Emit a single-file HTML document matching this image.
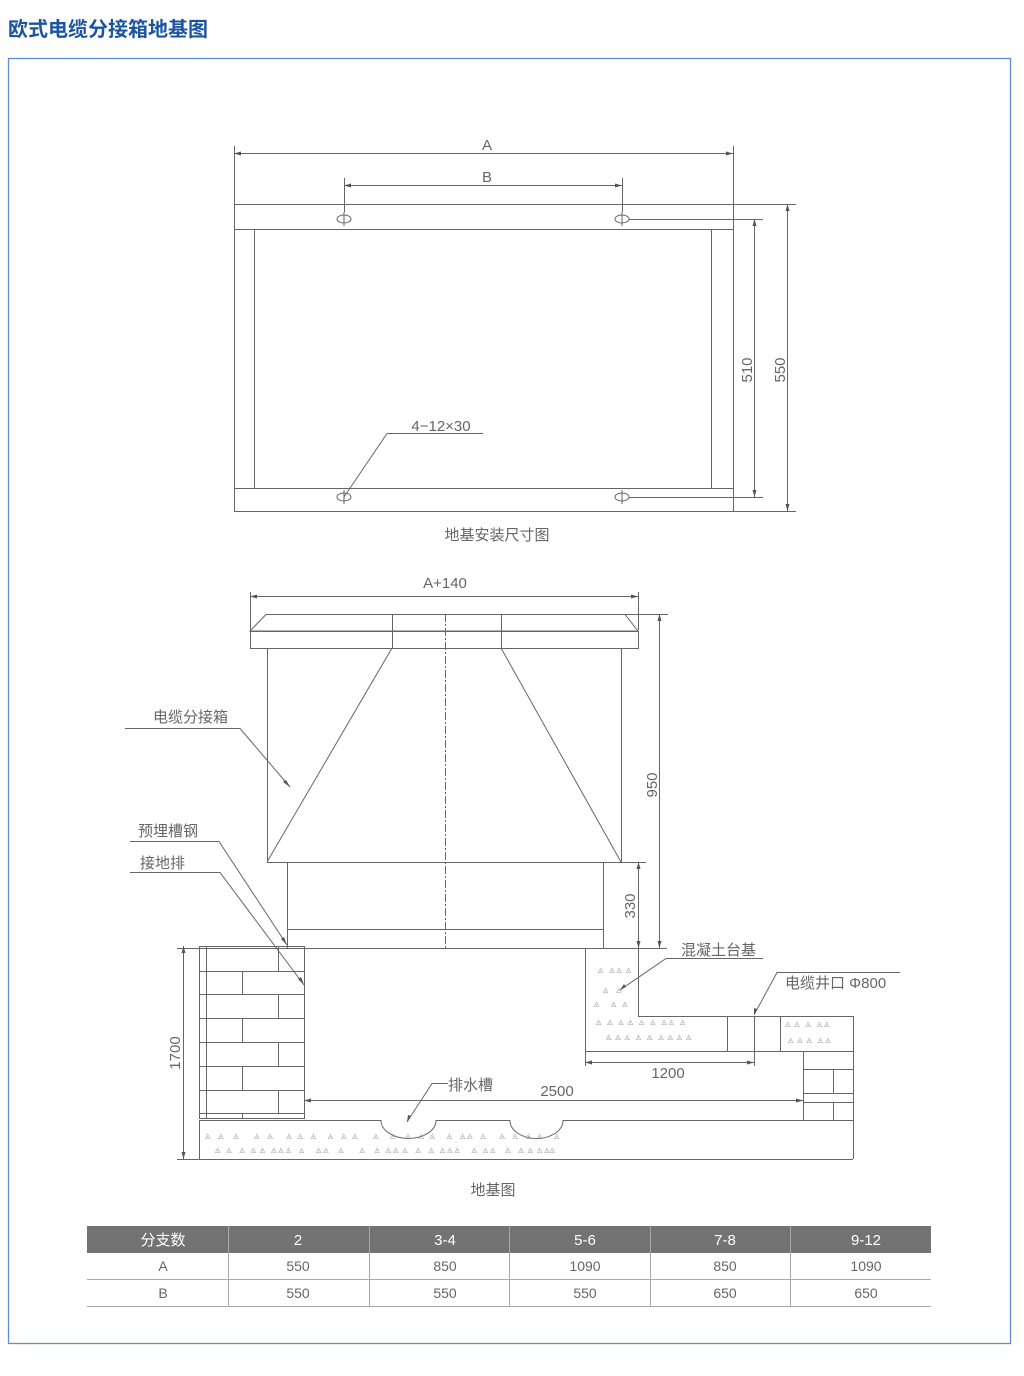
<!DOCTYPE html>
<html><head><meta charset="utf-8"><style>
html,body{margin:0;padding:0;background:#fff;width:1024px;height:1376px;overflow:hidden}
svg{display:block}
text{font-family:"Liberation Sans","Noto Sans CJK SC",sans-serif;fill:#666}
.sc text{white-space:pre}
</style></head><body>
<svg width="1024" height="1376" viewBox="0 0 1024 1376" xmlns="http://www.w3.org/2000/svg">
<text x="8" y="36" style="font-size:20px;font-weight:bold;fill:#1b54a3;font-family:'Noto Sans CJK SC',sans-serif">欧式电缆分接箱地基图</text>
<rect x="8.5" y="58.5" width="1002" height="1285" fill="none" stroke="#5b8fd3" stroke-width="1.3"/>

<g stroke="#666" stroke-width="1" fill="none">
<rect x="234.5" y="204.5" width="499" height="307"/>
<line x1="234" y1="229.5" x2="733" y2="229.5"/>
<line x1="234" y1="488.5" x2="733" y2="488.5"/>
<line x1="254.5" y1="229" x2="254.5" y2="488"/>
<line x1="711.5" y1="229" x2="711.5" y2="488"/>
<ellipse cx="344" cy="219" rx="7" ry="4"/><ellipse cx="622" cy="219" rx="7" ry="4"/>
<ellipse cx="344" cy="497" rx="7" ry="4"/><ellipse cx="622" cy="497" rx="7" ry="4"/>
<line x1="344" y1="212" x2="344" y2="226"/><line x1="622" y1="212" x2="622" y2="226"/>
<line x1="344" y1="490" x2="344" y2="504"/><line x1="622" y1="490" x2="622" y2="504"/>
<line x1="234.5" y1="146" x2="234.5" y2="204"/><line x1="733.5" y1="146" x2="733.5" y2="204"/>
<line x1="234" y1="153.5" x2="733" y2="153.5"/>
<line x1="344.5" y1="178" x2="344.5" y2="212"/><line x1="622.5" y1="178" x2="622.5" y2="212"/>
<line x1="344" y1="185.5" x2="622" y2="185.5"/>
<line x1="629" y1="219.5" x2="763" y2="219.5"/><line x1="629" y1="497.5" x2="763" y2="497.5"/>
<line x1="754.5" y1="219" x2="754.5" y2="497"/>
<line x1="733" y1="204.5" x2="796" y2="204.5"/><line x1="733" y1="511.5" x2="796" y2="511.5"/>
<line x1="787.5" y1="204" x2="787.5" y2="511"/>
<polyline points="483,433.5 387,433.5 344,497"/>

<polygon points="266,614.5 625,614.5 638,631 250,631"/>
<rect x="250.5" y="631.5" width="388" height="17"/>
<line x1="392.5" y1="614" x2="392.5" y2="648"/><line x1="501.5" y1="614" x2="501.5" y2="648"/>
<rect x="267.5" y="648.5" width="354" height="214"/>
<line x1="392" y1="648" x2="267" y2="862"/><line x1="501" y1="648" x2="621" y2="862"/>
<rect x="287.5" y="862.5" width="316" height="86"/>
<line x1="287" y1="929.5" x2="603" y2="929.5"/>
<line x1="445.5" y1="614" x2="445.5" y2="948" stroke-dasharray="8 2 2 2"/>
<line x1="250.5" y1="592" x2="250.5" y2="630"/><line x1="638.5" y1="592" x2="638.5" y2="630"/>
<line x1="250" y1="596.5" x2="638" y2="596.5"/>
<line x1="625" y1="614.5" x2="668" y2="614.5"/>
<line x1="659.5" y1="614" x2="659.5" y2="948"/>
<line x1="621" y1="862.5" x2="646" y2="862.5"/>
<line x1="638.5" y1="862" x2="638.5" y2="948"/>
<line x1="177" y1="948.5" x2="667" y2="948.5"/>

<rect x="199.5" y="946.5" width="105" height="172"/>
<line x1="206.5" y1="946" x2="206.5" y2="1118"/>
<line x1="199" y1="971.5" x2="304" y2="971.5"/><line x1="199" y1="994.5" x2="304" y2="994.5"/>
<line x1="199" y1="1018.5" x2="304" y2="1018.5"/><line x1="199" y1="1042.5" x2="304" y2="1042.5"/>
<line x1="199" y1="1066.5" x2="304" y2="1066.5"/><line x1="199" y1="1090.5" x2="304" y2="1090.5"/>
<line x1="199" y1="1113.5" x2="304" y2="1113.5"/>
<line x1="278.5" y1="946" x2="278.5" y2="971"/><line x1="242.5" y1="971" x2="242.5" y2="994"/>
<line x1="278.5" y1="994" x2="278.5" y2="1018"/><line x1="242.5" y1="1018" x2="242.5" y2="1042"/>
<line x1="278.5" y1="1042" x2="278.5" y2="1066"/><line x1="242.5" y1="1066" x2="242.5" y2="1090"/>
<line x1="278.5" y1="1090" x2="278.5" y2="1113"/><line x1="242.5" y1="1113" x2="242.5" y2="1119"/>
<path d="M199,1120.5 H381 A27.5,18 0 0 0 436,1120.5 H510 A26.5,18 0 0 0 563,1120.5 H853"/>
<line x1="199.5" y1="1120" x2="199.5" y2="1159"/>
<line x1="853.5" y1="1016" x2="853.5" y2="1159"/>
<line x1="199" y1="1159.5" x2="853" y2="1159.5"/>
<line x1="177" y1="1159.5" x2="199" y2="1159.5"/>
<line x1="183.5" y1="946" x2="183.5" y2="1159"/>
<polyline points="585.5,948 585.5,1051.5 853,1051.5"/>
<polyline points="638.5,948 638.5,1016.5 853,1016.5"/>
<line x1="727.5" y1="1016" x2="727.5" y2="1051"/>
<line x1="780.5" y1="1016" x2="780.5" y2="1051"/>
<line x1="754.5" y1="1016" x2="754.5" y2="1066"/>
<line x1="803.5" y1="1051" x2="803.5" y2="1120"/>
<line x1="803" y1="1069.5" x2="853" y2="1069.5"/>
<line x1="803" y1="1093.5" x2="853" y2="1093.5"/>
<line x1="803" y1="1102.5" x2="853" y2="1102.5"/>
<line x1="833.5" y1="1069" x2="833.5" y2="1093"/>
<line x1="833.5" y1="1102" x2="833.5" y2="1120"/>
<line x1="585.5" y1="1051" x2="585.5" y2="1066"/>
<line x1="585" y1="1062.5" x2="754" y2="1062.5"/>
<line x1="304" y1="1100.5" x2="803" y2="1100.5"/>
<polyline points="125,728.5 240,728.5 290,787"/>
<polyline points="130,841.5 219,841.5 287,945"/>
<polyline points="130,872.5 220,872.5 304,985"/>
<polyline points="763,958.5 666,958.5 620,990"/>
<polyline points="900,972.5 777,972.5 754,1015"/>
<polyline points="448,1083.5 432,1083.5 407,1122"/>
</g>
<g fill="#555">
<polygon points="234,153.5 241,151.5 241,155.5"/><polygon points="733,153.5 726,151.5 726,155.5"/>
<polygon points="344,185.5 351,183.5 351,187.5"/><polygon points="622,185.5 615,183.5 615,187.5"/>
<polygon points="754.5,219 752.5,226 756.5,226"/><polygon points="754.5,497 752.5,490 756.5,490"/>
<polygon points="787.5,204 785.5,211 789.5,211"/><polygon points="787.5,511 785.5,504 789.5,504"/>
<polygon points="250,596.5 257,594.5 257,598.5"/><polygon points="638,596.5 631,594.5 631,598.5"/>
<polygon points="659.5,614 657.5,621 661.5,621"/><polygon points="659.5,948 657.5,941 661.5,941"/>
<polygon points="638.5,862 636.5,869 640.5,869"/><polygon points="638.5,948 636.5,941 640.5,941"/>
<polygon points="183.5,946 181.5,953 185.5,953"/><polygon points="183.5,1159 181.5,1152 185.5,1152"/>
<polygon points="585,1062.5 592,1060.5 592,1064.5"/><polygon points="754,1062.5 747,1060.5 747,1064.5"/>
<polygon points="304,1100.5 311,1098.5 311,1102.5"/><polygon points="803,1100.5 796,1098.5 796,1102.5"/>
<polygon points="290,787 283,782 286,780"/><polygon points="287,945 281,939 284,937"/>
<polygon points="304,985 298,979 301,977"/><polygon points="620,990 624,984 626,987"/>
<polygon points="754,1015 754,1008 757,1009"/><polygon points="407,1122 408,1115 411,1116"/>
</g>
<g style="font-size:15px" text-anchor="middle">
<text x="487" y="150">A</text><text x="487" y="182">B</text>
<text x="441" y="431">4−12×30</text>
<text x="497" y="540">地基安装尺寸图</text>
<text x="445" y="588">A+140</text>
<text transform="translate(752,370) rotate(-90)">510</text>
<text transform="translate(785,370) rotate(-90)">550</text>
<text transform="translate(657,785) rotate(-90)">950</text>
<text transform="translate(635,906) rotate(-90)">330</text>
<text transform="translate(180,1053) rotate(-90)">1700</text>
<text x="668" y="1078">1200</text>
<text x="557" y="1096">2500</text>
<text x="493" y="1195">地基图</text>
</g>
<g style="font-size:15px">
<text x="153" y="722">电缆分接箱</text>
<text x="138" y="836">预埋槽钢</text>
<text x="140" y="868">接地排</text>
<text x="681" y="955">混凝土台基</text>
<text x="785" y="988">电缆井口 Φ800</text>
<text x="448" y="1090">排水槽</text>
</g>
<g class="sc" style="font-size:7px">
<text x="598" y="972" style="fill:#888">◬   ◬ ◬  ◬</text><text x="603" y="992" style="fill:#888">◬    ◬</text><text x="594" y="1006" style="fill:#888">◬      ◬   ◬</text>
<text x="596" y="1024" style="fill:#888">◬   ◬   ◬  ◬   ◬   ◬   ◬ ◬   ◬</text><text x="606" y="1039" style="fill:#888">◬  ◬  ◬   ◬   ◬   ◬  ◬  ◬  ◬</text>
<text x="785" y="1026" style="fill:#888">◬  ◬   ◬   ◬ ◬</text><text x="788" y="1042" style="fill:#888">◬  ◬  ◬   ◬ ◬</text>
<text x="205" y="1138" style="fill:#888">◬    ◬     ◬        ◬    ◬       ◬   ◬    ◬      ◬    ◬   ◬        ◬      ◬     ◬    ◬   ◬      ◬    ◬ ◬    ◬       ◬    ◬    ◬   ◬      ◬</text>
<text x="215" y="1152" style="fill:#888">◬   ◬    ◬   ◬  ◬   ◬ ◬ ◬    ◬      ◬ ◬     ◬        ◬     ◬   ◬ ◬  ◬    ◬    ◬   ◬ ◬ ◬      ◬   ◬ ◬     ◬    ◬  ◬  ◬ ◬◬</text>
</g>
<rect x="87" y="1226" width="844" height="27" fill="#737373"/>
<g stroke="#aaa" stroke-width="1">
<line x1="87" y1="1279.5" x2="931" y2="1279.5"/><line x1="87" y1="1306.5" x2="931" y2="1306.5"/>
<line x1="228.5" y1="1226" x2="228.5" y2="1306"/><line x1="369.5" y1="1226" x2="369.5" y2="1306"/>
<line x1="509.5" y1="1226" x2="509.5" y2="1306"/><line x1="650.5" y1="1226" x2="650.5" y2="1306"/>
<line x1="790.5" y1="1226" x2="790.5" y2="1306"/>
</g>
<g style="font-size:15px" text-anchor="middle">
<text x="163" y="1245" style="fill:#fff">分支数</text><text x="298" y="1245" style="fill:#fff">2</text>
<text x="445" y="1245" style="fill:#fff">3-4</text><text x="585" y="1245" style="fill:#fff">5-6</text>
<text x="725" y="1245" style="fill:#fff">7-8</text><text x="866" y="1245" style="fill:#fff">9-12</text>
</g>
<g style="font-size:14px" text-anchor="middle">
<text x="163" y="1271">A</text><text x="298" y="1271">550</text><text x="445" y="1271">850</text>
<text x="585" y="1271">1090</text><text x="725" y="1271">850</text><text x="866" y="1271">1090</text>
<text x="163" y="1298">B</text><text x="298" y="1298">550</text><text x="445" y="1298">550</text>
<text x="585" y="1298">550</text><text x="725" y="1298">650</text><text x="866" y="1298">650</text>
</g>
</svg>
</body></html>
